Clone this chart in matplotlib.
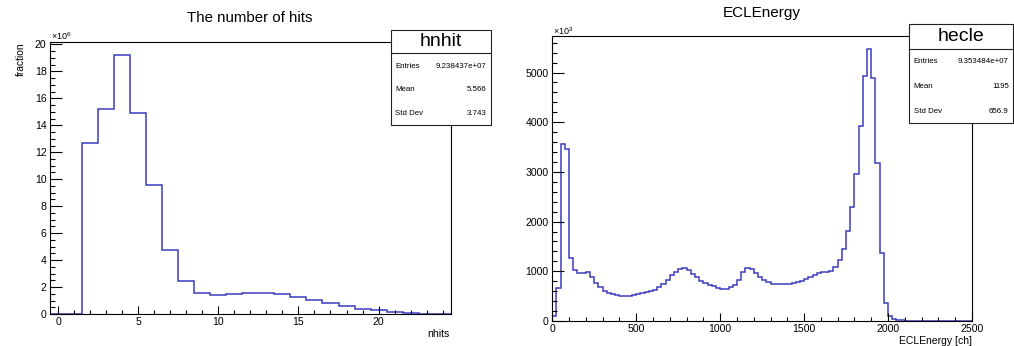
import numpy as np
import matplotlib.pyplot as plt
from matplotlib.patches import Rectangle
from matplotlib.lines import Line2D
from matplotlib.ticker import MultipleLocator

plt.rcParams['font.family'] = ['Liberation Sans', 'DejaVu Sans']
plt.rcParams['mathtext.fontset'] = 'custom'
plt.rcParams['mathtext.rm'] = 'Liberation Sans'

# number of hits, one bin per integer 0..24, counts in units of 1e6
nhits_edges = np.arange(-0.5, 25, 1.0)
nhits_counts = [0, 0, 12.69, 15.24, 19.24, 14.94, 9.56, 4.72, 2.42, 1.53,
                1.38, 1.46, 1.56, 1.58, 1.46, 1.28, 1.04, 0.79, 0.59, 0.39,
                0.27, 0.12, 0.05, 0, 0]
nhits_stats = [("Entries", "9.238437e+07"), ("Mean", "5.566"), ("Std Dev", "3.743")]

# ECL energy, 25 ch bins from 0 to 2500, counts in units of 1e3
ecl_edges = np.arange(0, 2525, 25)
ecl_counts = [95, 658, 3565, 3457, 1276, 1035, 960, 960, 994, 876,
              766, 675, 600, 564, 537, 517, 504, 500, 510, 530,
              545, 564, 587, 605, 631, 680, 745, 835, 920, 984,
              1037, 1058, 1017, 954, 886, 809, 769, 728, 698, 668,
              650, 641, 685, 729, 833, 984, 1074, 1040, 960, 876,
              819, 776, 745, 738, 738, 745, 752, 759, 779, 799,
              839, 886, 927, 960, 980, 994, 1014, 1081, 1229, 1457,
              1813, 2303, 2961, 3934, 4935, 5472, 4888, 3176, 1363, 369,
              100, 40, 20, 12, 10, 8, 7, 6, 5, 5,
              4, 4, 3, 3, 3, 2, 2, 2, 2, 2]
ecl_stats = [("Entries", "9.353484e+07"), ("Mean", "1195"), ("Std Dev", "656.9")]

W, H = 1014, 346
fig = plt.figure(figsize=(W / 100, H / 100), dpi=100)


def rect(x0, y0, x1, y1):
    return [x0 / W, 1 - y1 / H, (x1 - x0) / W, (y1 - y0) / H]


def style(ax, xmaj, xmin, ymaj, ymin):
    ax.xaxis.set_major_locator(MultipleLocator(xmaj))
    ax.xaxis.set_minor_locator(MultipleLocator(xmin))
    ax.yaxis.set_major_locator(MultipleLocator(ymaj))
    ax.yaxis.set_minor_locator(MultipleLocator(ymin))
    ax.tick_params(which='both', direction='in', top=False, right=False,
                   labelsize=7.6, pad=2.5, width=0.8)
    ax.tick_params(axis='x', which='major', length=5.8)
    ax.tick_params(axis='x', which='minor', length=2.9)
    ax.tick_params(axis='y', which='major', length=8.6)
    ax.tick_params(axis='y', which='minor', length=3.6)
    for s in ax.spines.values():
        s.set_linewidth(0.8)


def statbox(x0, y0, x1, y1, ysep, name, rows, rowy):
    fig.add_artist(Rectangle((x0 / W, 1 - y1 / H), (x1 - x0) / W, (y1 - y0) / H,
                             transform=fig.transFigure, facecolor='white',
                             edgecolor='#222222', lw=0.8, zorder=5))
    fig.add_artist(Line2D([x0 / W, x1 / W], [1 - ysep / H] * 2,
                          transform=fig.transFigure, color='#222222', lw=0.8, zorder=6))
    fig.text((x0 + x1) / 2 / W, 1 - (y0 + ysep) / 2 / H, name, ha='center',
             va='center', fontsize=14, zorder=7)
    for (lab, val), yy in zip(rows, rowy):
        fig.text((x0 + 4.5) / W, 1 - yy / H, lab, ha='left', va='center',
                 fontsize=5.7, zorder=7)
        fig.text((x1 - 4.5) / W, 1 - yy / H, val, ha='right', va='center',
                 fontsize=5.7, zorder=7)


blue = '#3c3cc0'

# left: number of hits
ax1 = fig.add_axes(rect(50, 41.7, 450.7, 314))
ax1.stairs(nhits_counts, nhits_edges, color=blue, lw=1.1)
ax1.set_xlim(-0.5, 24.5)
ax1.set_ylim(0, max(nhits_counts) * 1.05)
style(ax1, 5, 1, 2, 0.5)
fig.text(250 / W, 1 - 18.5 / H, "The number of hits", ha='center', va='center', fontsize=10.8)
fig.text(21 / W, 1 - 42 / H, "fraction", rotation=90, ha='center', va='top', fontsize=7.4)
fig.text(450 / W, 1 - 334 / H, "nhits", ha='right', va='center', fontsize=7.6)
fig.text(51 / W, 1 - 36.5 / H, r'$\times10^{6}$', ha='left', va='center', fontsize=6.5)
statbox(390.7, 30, 490.7, 125, 53.3, "hnhit", nhits_stats, [66, 89.3, 113.3])

# right: ECL energy
ax2 = fig.add_axes(rect(552.3, 35.5, 972, 321))
ax2.stairs(ecl_counts, ecl_edges, color=blue, lw=1.1)
ax2.set_xlim(0, 2500)
ax2.set_ylim(0, max(ecl_counts) * 1.05)
style(ax2, 500, 100, 1000, 200)
fig.text(761.7 / W, 1 - 13 / H, "ECLEnergy", ha='center', va='center', fontsize=11)
fig.text(972 / W, 1 - 341 / H, "ECLEnergy [ch]", ha='right', va='center', fontsize=7.5)
fig.text(553 / W, 1 - 31 / H, r'$\times10^{3}$', ha='left', va='center', fontsize=6.5)
statbox(909, 23.7, 1013.3, 123.3, 49, "hecle", ecl_stats, [61.7, 86.7, 111.7])

fig.savefig("out.png", dpi=100)
